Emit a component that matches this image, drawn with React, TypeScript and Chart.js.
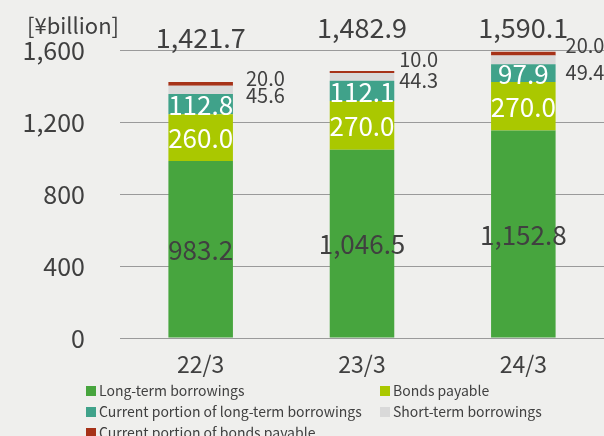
import React, { useEffect, useRef } from "react";
import { Chart, registerables } from "chart.js";

Chart.register(...registerables);

const FONT = '"Noto Sans CJK JP", "Noto Sans", sans-serif';
const BG = "#efefed";
const TEXT = "#404040";

const categories = ["22/3", "23/3", "24/3"];
const longTerm = [983.2, 1046.5, 1152.8];
const bonds = [260.0, 270.0, 270.0];
const currentLongTerm = [112.8, 112.1, 97.9];
const shortTerm = [45.6, 44.3, 49.4];
const currentBonds = [20.0, 10.0, 20.0];
const totals = [1421.7, 1482.9, 1590.1];
const yTicks = [0, 400, 800, 1200, 1600];

const seriesNames = [
  "Long-term borrowings",
  "Bonds payable",
  "Current portion of long-term borrowings",
  "Short-term borrowings",
  "Current portion of bonds payable",
];
const seriesColors = ["#47a53e", "#aac800", "#40a28a", "#d9d9d9", "#a63218"];
const seriesData = [longTerm, bonds, currentLongTerm, shortTerm, currentBonds];

// label placement tweaks (pixels)
const sideDx = [13, 5, 10];
const bondsLabelDy = [-4, -12, -6];
const shortLabelDy = [13, 9, 21];
const totalDy = [-12, -22, -22];

const fmt = (v: number) =>
  v.toLocaleString("en-US", { minimumFractionDigits: 1, maximumFractionDigits: 1 });

const labelPlugin = {
  id: "labels",
  afterDatasetsDraw(chart: any) {
    const ctx = chart.ctx;
    ctx.save();
    ctx.textBaseline = "middle";
    [0, 1, 2].forEach((di) => {
      const meta = chart.getDatasetMeta(di);
      meta.data.forEach((bar: any, i: number) => {
        const p = bar.getProps(["x", "y", "base"], true);
        ctx.fillStyle = di === 0 ? TEXT : "#ffffff";
        ctx.font = `26px ${FONT}`;
        ctx.textAlign = "center";
        ctx.fillText(fmt(seriesData[di][i]), p.x, (p.y + p.base) / 2 + 1);
      });
    });
    const topMeta = chart.getDatasetMeta(4);
    topMeta.data.forEach((bar: any, i: number) => {
      const p = bar.getProps(["x", "y", "width"], true);
      const xl = p.x + p.width / 2 + sideDx[i];
      ctx.fillStyle = TEXT;
      ctx.font = `20px ${FONT}`;
      ctx.textAlign = "left";
      ctx.fillText(fmt(currentBonds[i]), xl, p.y + bondsLabelDy[i]);
      ctx.fillText(fmt(shortTerm[i]), xl, p.y + shortLabelDy[i]);
      ctx.font = `27px ${FONT}`;
      ctx.textAlign = "center";
      ctx.fillText(fmt(totals[i]), p.x, chart.chartArea.top + totalDy[i]);
    });
    ctx.font = `22px ${FONT}`;
    ctx.textAlign = "left";
    ctx.fillText("[¥billion]", 27, 26);
    ctx.restore();
  },
};

export default function App() {
  const ref = useRef<HTMLCanvasElement>(null);
  useEffect(() => {
    document.body.style.margin = "0";
    document.body.style.background = BG;
    const chart = new Chart(ref.current!, {
      type: "bar",
      data: {
        labels: categories,
        datasets: seriesData.map((d, i) => ({
          label: seriesNames[i],
          data: d,
          backgroundColor: seriesColors[i],
          borderWidth: 0,
          barPercentage: 0.4,
          categoryPercentage: 1,
        })),
      },
      options: {
        responsive: false,
        animation: false,
        layout: { padding: { top: 49, left: 0, right: 0, bottom: 0 } },
        plugins: { legend: { display: false }, tooltip: { enabled: false } },
        scales: {
          x: {
            stacked: true,
            grid: { display: false, drawTicks: false },
            border: { display: false },
            ticks: { color: TEXT, font: { family: FONT, size: 23 }, padding: 12 },
            afterFit: (s: any) => {
              s.height = 42;
            },
          },
          y: {
            stacked: true,
            min: 0,
            max: 1600,
            afterBuildTicks: (s: any) => {
              s.ticks = yTicks.map((v) => ({ value: v }));
            },
            grid: { color: "#9a9a9a", lineWidth: 1, drawTicks: false },
            border: { display: false },
            ticks: {
              color: TEXT,
              font: { family: FONT, size: 25 },
              padding: 35,
              callback: (v: any) => Number(v).toLocaleString("en-US"),
            },
            afterFit: (s: any) => {
              s.width = 120;
            },
          },
        },
      },
      plugins: [labelPlugin],
    });
    return () => chart.destroy();
  }, []);

  return (
    <div style={{ position: "relative", width: 604, height: 450, background: BG, fontFamily: FONT, overflow: "hidden" }}>
      <canvas ref={ref} width={604} height={388} style={{ position: "absolute", left: 0, top: 0 }} />
      <div
        style={{
          position: "absolute",
          left: 86,
          top: 380,
          display: "grid",
          gridTemplateColumns: "294px 220px",
          gridAutoRows: "21px",
        }}
      >
        {seriesNames.map((n, i) => (
          <div key={n} style={{ display: "flex", alignItems: "center", height: 21, whiteSpace: "nowrap" }}>
            <span
              style={{ display: "inline-block", flexShrink: 0, width: 10, height: 10, background: seriesColors[i], marginRight: 3 }}
            />
            <span style={{ fontSize: 14, color: TEXT, lineHeight: "21px" }}>{n}</span>
          </div>
        ))}
      </div>
    </div>
  );
}
